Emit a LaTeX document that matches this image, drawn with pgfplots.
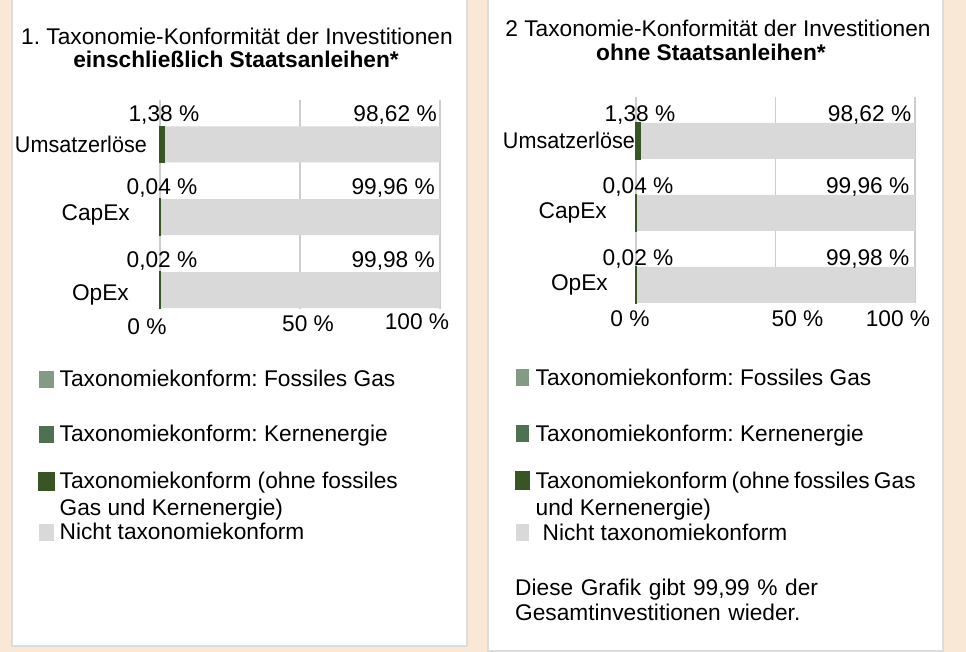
\documentclass[border=0pt]{standalone}
\usepackage{graphicx}
\usepackage{pgfplots}
\pgfplotsset{compat=1.18}
\usepackage{fontspec}
\setmainfont{Liberation Sans}
\definecolor{bg}{RGB}{250,232,215}
\definecolor{panelborder}{RGB}{220,220,220}
\definecolor{gridc}{RGB}{205,205,205}
\definecolor{gfoss}{RGB}{131,155,132}
\definecolor{gkern}{RGB}{78,113,82}
\definecolor{gtax}{RGB}{55,86,35}
\definecolor{gnot}{RGB}{217,217,217}
\newcommand\fz{\fontsize{22.7bp}{27bp}\selectfont\frenchspacing}
\pgfplotsset{
  sq/.style={legend image code/.code={\fill[#1] (0bp,-2bp) rectangle (15bp,15bp);}},
  sqr/.style={legend image code/.code={\fill[#1] (0bp,-1bp) rectangle (13bp,16bp);}},
  panel/.style={
    scale only axis, xbar stacked, bar width=36bp,
    xmin=0, xmax=100, ytick={0,1,2}, xtick={0,50,100},
    major tick length=0pt, tick style={draw=none},
    axis line style={draw=none},
    xmajorgrids, grid style={draw=gridc, line width=1.5bp},
    clip=false,
    ticklabel style={font=\fz, inner sep=0pt},
    legend style={draw=none, fill=none, inner sep=0pt, row sep=0pt,
      font=\fz, nodes={inner sep=0pt, text depth=, anchor=base west},
      cells={anchor=base west}, anchor=north west},
  },
  lblg/.style={point meta=explicit symbolic, nodes near coords={\pgfplotspointmeta},
    every node near coord/.append style={font=\fz, inner sep=0pt, anchor=base, xshift=2bp, yshift=#1}},
  lbln/.style 2 args={point meta=explicit symbolic, nodes near coords={\pgfplotspointmeta},
    every node near coord/.append style={font=\fz, inner sep=0pt, anchor=base east, xshift=#1, yshift=#2}},
}
\begin{document}
\fz
\begin{tikzpicture}[every node/.append style={font=\fz}]
\useasboundingbox (0,0) rectangle (966bp,652bp);
\fill[bg] (0,0) rectangle (966bp,652bp);
\filldraw[fill=white, draw=panelborder, line width=2bp] (12bp,6bp) rectangle (467bp,662bp);
\filldraw[fill=white, draw=panelborder, line width=2bp] (488bp,1bp) rectangle (943bp,662bp);

\node[anchor=base] at (237bp,607bp) {1. Taxonomie-Konformität der Investitionen};
\node[anchor=base] at (236bp,584bp) {\bfseries einschließlich Staatsanleihen*};
\node[anchor=base] at (718bp,615bp) {2 Taxonomie-Konformität der Investitionen};
\node[anchor=base] at (711bp,591bp) {\bfseries ohne Staatsanleihen*};

% ---------------- left panel
\begin{axis}[panel, at={(160bp,343bp)}, anchor=south west, width=280bp, height=209bp,
  ymin=-0.26, ymax=2.61,
  yticklabels={\raisebox{-5bp}[\height][\depth]{OpEx}\hspace*{18bp}, \raisebox{2bp}[\height][\depth]{CapEx}\hspace*{17bp}, \scalebox{0.95}[1]{Umsatzerlöse}},
  yticklabel style={anchor=east, xshift=-13bp},
  xticklabels={\makebox[0pt]{\hspace*{-26bp}\raisebox{-5bp}{0~\%}}, \makebox[0pt]{\hspace*{16bp}\raisebox{-2bp}{50~\%}}, \makebox[0pt]{\hspace*{-46bp}100~\%}},
  xticklabel style={anchor=base, yshift=-21bp},
  legend style={at={(-0.4357,-0.2823)}, column sep=5bp},
]
\addplot[fill=gfoss, draw=none, sq=gfoss] coordinates {(0,0) (0,1) (0,2)};
\addlegendentry{\parbox[t]{380bp}{\rule[-37bp]{0pt}{55bp}Taxonomiekonform: Fossiles Gas}}
\addplot[fill=gkern, draw=none, sq=gkern] coordinates {(0,0) (0,1) (0,2)};
\addlegendentry{\parbox[t]{380bp}{\rule[-29bp]{0pt}{47bp}Taxonomiekonform: Kernenergie}}
\addplot[fill=gtax, draw=gtax, line width=1.5bp, sq=gtax, lblg=23bp] coordinates {(0.02,0) [0,02~\%] (0.04,1) [0,04~\%] (1.38,2) [1,38~\%]};
\addlegendentry{\parbox[t]{380bp}{\rule{0pt}{18bp}Taxonomiekonform (ohne fossiles\\Gas und Kernenergie)\rule[-6bp]{0pt}{6bp}}}
\addplot[fill=gnot, draw=none, sq=gnot, lbln={135bp}{23bp}] coordinates {(99.98,0) [99,98~\%] (99.96,1) [99,96~\%] (98.62,2) [98,62~\%]};
\addlegendentry{\parbox[t]{380bp}{\rule{0pt}{18bp}Nicht taxonomiekonform}}
\end{axis}

% ---------------- right panel
\begin{axis}[panel, at={(636bp,349bp)}, anchor=south west, width=279bp, height=206bp,
  ymin=-0.25, ymax=2.61,
  yticklabels={OpEx\hspace*{27bp}, CapEx\hspace*{28bp}, \raisebox{1bp}[\height][\depth]{\scalebox{0.95}[1]{Umsatzerlöse}}},
  yticklabel style={anchor=east, xshift=-1bp},
  xticklabels={\makebox[0pt]{\hspace*{-12bp}0~\%}, \makebox[0pt]{\hspace*{44bp}50~\%}, \makebox[0pt]{\hspace*{-34bp}100~\%}},
  xticklabel style={anchor=base, yshift=-24bp},
  legend style={at={(-0.4337,-0.3107)}, column sep=6bp},
]
\addplot[fill=gfoss, draw=none, sqr=gfoss] coordinates {(0,0) (0,1) (0,2)};
\addlegendentry{\parbox[t]{380bp}{\rule[-38bp]{0pt}{56bp}Taxonomiekonform: Fossiles Gas}}
\addplot[fill=gkern, draw=none, sqr=gkern] coordinates {(0,0) (0,1) (0,2)};
\addlegendentry{\parbox[t]{380bp}{\rule[-29bp]{0pt}{47bp}Taxonomiekonform: Kernenergie}}
\addplot[fill=gtax, draw=gtax, line width=1.5bp, sqr=gtax, lblg=19.5bp] coordinates {(0.02,0) [0,02~\%] (0.04,1) [0,04~\%] (1.38,2) [1,38~\%]};
\addlegendentry{\parbox[t]{380bp}{\rule{0pt}{18bp}Taxonomiekonform (ohne fossiles Gas\\und Kernenergie)\rule[-7bp]{0pt}{7bp}}}
\addplot[fill=gnot, draw=none, sqr=gnot, lbln={134bp}{19.5bp}] coordinates {(99.98,0) [99,98~\%] (99.96,1) [99,96~\%] (98.62,2) [98,62~\%]};
\addlegendentry{\parbox[t]{380bp}{\rule{0pt}{18bp}\hspace*{7bp}Nicht taxonomiekonform}}
\end{axis}

\node[anchor=base west, align=left, text width=400bp, inner sep=0pt, font=\fontsize{22.7bp}{25bp}\selectfont] at (515bp,56bp) {Diese Grafik gibt 99,99 \% der\\Gesamtinvestitionen wieder.};
\end{tikzpicture}
\end{document}
